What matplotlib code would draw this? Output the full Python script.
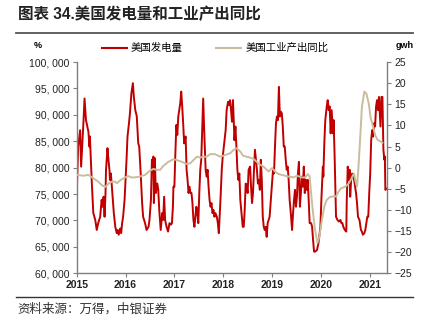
import matplotlib.pyplot as plt
from matplotlib.lines import Line2D

plt.rcParams['font.family'] = ['Liberation Sans', 'Noto Sans CJK SC', 'DejaVu Sans']
plt.rcParams['axes.unicode_minus'] = True

# weekly US power generation (gwh), decimal years
power_t = [
    2015.00, 2015.03, 2015.07, 2015.09, 2015.14, 2015.16, 2015.19, 2015.24, 2015.26, 2015.27,
    2015.29, 2015.31, 2015.34, 2015.38, 2015.41, 2015.44, 2015.48, 2015.51, 2015.53, 2015.55,
    2015.57, 2015.59, 2015.60, 2015.63, 2015.65, 2015.67, 2015.68, 2015.70, 2015.72, 2015.74,
    2015.76, 2015.79, 2015.82, 2015.84, 2015.86, 2015.89, 2015.91, 2015.93, 2015.95, 2015.98,
    2016.00, 2016.02, 2016.04, 2016.07, 2016.09, 2016.12, 2016.15, 2016.17, 2016.20, 2016.23,
    2016.26, 2016.28, 2016.31, 2016.34, 2016.36, 2016.40, 2016.43, 2016.47, 2016.49, 2016.52,
    2016.54, 2016.56, 2016.57, 2016.58, 2016.60, 2016.62, 2016.65, 2016.67, 2016.69, 2016.72,
    2016.75, 2016.77, 2016.79, 2016.81, 2016.84, 2016.87, 2016.90, 2016.93, 2016.95, 2016.97,
    2016.98, 2017.00, 2017.02, 2017.04, 2017.06, 2017.08, 2017.10, 2017.12, 2017.14, 2017.16,
    2017.18, 2017.20, 2017.23, 2017.25, 2017.27, 2017.29, 2017.31, 2017.33, 2017.35, 2017.37,
    2017.39, 2017.41, 2017.43, 2017.45, 2017.47, 2017.49, 2017.51, 2017.53, 2017.55, 2017.57,
    2017.59, 2017.61, 2017.64, 2017.66, 2017.68, 2017.70, 2017.72, 2017.74, 2017.76, 2017.78,
    2017.80, 2017.82, 2017.84, 2017.87, 2017.89, 2017.91, 2017.93, 2017.95, 2017.97, 2017.99,
    2018.02, 2018.05, 2018.07, 2018.10, 2018.12, 2018.14, 2018.16, 2018.18, 2018.20, 2018.21,
    2018.23, 2018.25, 2018.27, 2018.29, 2018.31, 2018.33, 2018.35, 2018.38, 2018.40, 2018.42,
    2018.44, 2018.46, 2018.48, 2018.50, 2018.52, 2018.55, 2018.57, 2018.59, 2018.61, 2018.63,
    2018.65, 2018.67, 2018.69, 2018.71, 2018.73, 2018.75, 2018.77, 2018.79, 2018.81, 2018.83,
    2018.85, 2018.87, 2018.89, 2018.91, 2018.93, 2018.95, 2018.98, 2019.00, 2019.02, 2019.04,
    2019.06, 2019.08, 2019.10, 2019.12, 2019.14, 2019.16, 2019.18, 2019.20, 2019.22, 2019.24,
    2019.26, 2019.28, 2019.30, 2019.32, 2019.34, 2019.36, 2019.39, 2019.41, 2019.43, 2019.45,
    2019.47, 2019.49, 2019.51, 2019.53, 2019.55, 2019.57, 2019.59, 2019.61, 2019.63, 2019.65,
    2019.67, 2019.69, 2019.71, 2019.73, 2019.75, 2019.77, 2019.80, 2019.82, 2019.84, 2019.86,
    2019.88, 2019.92, 2019.95, 2019.99, 2020.01, 2020.03, 2020.04, 2020.05, 2020.07, 2020.09,
    2020.12, 2020.14, 2020.16, 2020.18, 2020.20, 2020.22, 2020.25, 2020.26, 2020.28, 2020.30,
    2020.31, 2020.34, 2020.37, 2020.40, 2020.42, 2020.44, 2020.46, 2020.49, 2020.52, 2020.53,
    2020.55, 2020.57, 2020.59, 2020.60, 2020.62, 2020.64, 2020.67, 2020.70, 2020.72, 2020.74,
    2020.76, 2020.79, 2020.82, 2020.84, 2020.86, 2020.89, 2020.91, 2020.93, 2020.95, 2020.97,
    2020.99, 2021.01, 2021.03, 2021.05, 2021.07, 2021.09, 2021.11, 2021.13, 2021.15, 2021.17,
    2021.19, 2021.22, 2021.24, 2021.26, 2021.27, 2021.28, 2021.30, 2021.31, 2021.32, 2021.34,
]
power_v = [
    74800, 84000, 87100, 80200, 89000, 93100, 89000, 86800, 84000, 85900,
    81500, 77000, 71400, 70100, 68200, 69500, 70700, 73900, 72600, 74500,
    70700, 75200, 79600, 83700, 81500, 79600, 77700, 78900, 76400, 73900,
    71400, 68800, 67600, 68200, 67300, 68500, 67600, 69500, 70700, 73900,
    77700, 81500, 85900, 88400, 90300, 94100, 96000, 93400, 90900, 89700,
    84600, 84000, 78900, 73200, 70700, 69500, 68200, 68800, 70100, 73900,
    81500, 79600, 82100, 73300, 81800, 75200, 77000, 75800, 72000, 68200,
    71400, 70100, 74500, 70100, 68800, 67900, 69500, 69200, 69500, 72600,
    76400, 76400, 82700, 88100, 86200, 89700, 90900, 92200, 94400, 91600,
    88400, 84600, 85900, 79600, 77700, 75200, 76400, 75200, 75200, 73300,
    70100, 68800, 70700, 72600, 71400, 69500, 75200, 79600, 81500, 87100,
    93100, 87100, 79600, 78300, 79600, 76400, 73900, 72600, 73300, 71400,
    72000, 70700, 71400, 70700, 69500, 67600, 71400, 75200, 79600, 82100,
    84600, 87100, 90900, 92500, 91900, 92800, 90900, 88700, 92800, 90300,
    85200, 87800, 84000, 79600, 77700, 78900, 73900, 70700, 68800, 68800,
    72000, 77000, 76400, 75200, 79600, 80200, 76400, 73300, 75200, 79600,
    83400, 81500, 79600, 77000, 77700, 75800, 81500, 77700, 70700, 68800,
    68200, 68800, 66900, 69500, 70100, 70700, 74500, 77000, 79600, 78900,
    84000, 88400, 89700, 89000, 95300, 89700, 90600, 90300, 87800, 84000,
    84000, 81500, 79600, 80200, 77700, 73900, 70700, 68200, 71400, 73900,
    75800, 72600, 74500, 78900, 81100, 72600, 75200, 78300, 76400, 80200,
    75200, 77700, 75800, 77700, 73900, 69500, 69500, 68800, 66300, 64100,
    64100, 64400, 65700, 68800, 73900, 78300, 80200, 78300, 84600, 89000,
    91600, 92800, 90900, 91600, 86500, 90900, 86500, 89000, 82700, 75200,
    70700, 70100, 69800, 70100, 69500, 69500, 68800, 68200, 67900, 73900,
    80200, 77700, 79600, 74500, 77700, 78900, 78300, 76400, 75200, 73300,
    70700, 70100, 68200, 67900, 67300, 67600, 68200, 69500, 70700, 70700,
    75200, 78900, 85200, 87100, 85900, 88400, 87800, 91600, 92800, 90900,
    93400, 87800, 93400, 93400, 87800, 83400, 81500, 82100, 75800, 76000,
]

# US industrial output, yoy %
ip_t = [
    2015.00, 2015.14, 2015.24, 2015.34, 2015.44, 2015.51, 2015.58, 2015.65, 2015.72, 2015.79,
    2015.82, 2015.89, 2015.99, 2016.06, 2016.12, 2016.19, 2016.29, 2016.40, 2016.50, 2016.57,
    2016.64, 2016.71, 2016.77, 2016.88, 2016.98, 2017.05, 2017.15, 2017.25, 2017.32, 2017.39,
    2017.46, 2017.53, 2017.59, 2017.66, 2017.73, 2017.83, 2017.94, 2018.04, 2018.14, 2018.21,
    2018.28, 2018.35, 2018.41, 2018.52, 2018.62, 2018.72, 2018.83, 2018.93, 2019.00, 2019.06,
    2019.13, 2019.23, 2019.34, 2019.44, 2019.51, 2019.61, 2019.68, 2019.73, 2019.77, 2019.80,
    2019.84, 2019.88, 2019.93, 2019.97, 2020.02, 2020.07, 2020.12, 2020.19, 2020.26, 2020.31,
    2020.36, 2020.41, 2020.46, 2020.52, 2020.57, 2020.61, 2020.66, 2020.68, 2020.71, 2020.74,
    2020.77, 2020.81, 2020.84, 2020.89, 2020.93, 2020.98, 2021.02, 2021.07, 2021.11, 2021.16,
    2021.22, 2021.26,
]
ip_v = [
    -1.7, -1.9, -1.7, -2.5, -3.3, -4.1, -4.6, -3.8, -3.3, -3.3,
    -3.7, -3.0, -2.3, -2.0, -2.3, -2.3, -2.1, -1.7, -0.7, -0.3,
    -0.5, -0.5, 0.4, 1.4, 2.0, 1.8, 1.4, 0.9, 1.0, 1.8,
    2.6, 2.4, 2.6, 2.6, 3.2, 3.2, 2.6, 3.0, 3.4, 4.2,
    4.6, 3.8, 2.8, 2.5, 2.1, 1.0, 0.2, -0.9, -0.1, -0.9,
    -1.5, -1.8, -2.1, -2.3, -1.9, -2.3, -2.3, -1.5, -2.1, -6.1,
    -10.8, -14.7, -17.8, -16.3, -12.4, -9.2, -7.6, -6.9, -6.8, -6.8,
    -5.7, -4.9, -4.7, -4.3, -3.7, -2.9, -1.7, -1.4, -3.3, -4.5,
    0.2, 8.1, 14.4, 18.0, 17.6, 15.2, 11.7, 9.7, 7.7, 6.6,
    6.2, 5.9,
]

years = [2015, 2016, 2017, 2018, 2019, 2020, 2021]
left_ticks = [60000, 65000, 70000, 75000, 80000, 85000, 90000, 95000, 100000]
right_ticks = [-25, -20, -15, -10, -5, 0, 5, 10, 15, 20, 25]

red = '#C00000'
tan = '#C8BD9C'
grey = '#7F7F7F'
cjk = ['Noto Sans CJK SC', 'DejaVu Sans']

fig = plt.figure(figsize=(4.25, 3.28), dpi=100)
ax = fig.add_axes([0.1805, 0.1668, 0.7308, 0.6439])
ax2 = ax.twinx()

ax.plot(power_t, power_v, color=red, lw=1.4)
ax2.plot(ip_t, ip_v, color=tan, lw=1.4)

ax.set_xlim(2015, 2021.36)
ax.set_ylim(60000, 100000)
ax2.set_ylim(-25, 25)

ax.set_xticks(years)
ax.set_xticklabels([str(y) for y in years], fontsize=7.5, fontweight='bold', color='#222222')
ax.set_yticks(left_ticks)
ax.set_yticklabels([f'{v:,}'.replace(',', ', ') for v in left_ticks], fontsize=7.5, color='#222222')
ax2.set_yticks(right_ticks)
ax2.set_yticklabels([f'{v}'.replace('-', '\u2212') for v in right_ticks], fontsize=7.5, color='#222222')

for s in ['top', 'right']:
    ax.spines[s].set_visible(False)
for s in ['top', 'left', 'bottom']:
    ax2.spines[s].set_visible(False)
for s in [ax.spines['left'], ax.spines['bottom'], ax2.spines['right']]:
    s.set_color(grey)
    s.set_linewidth(1.0)
ax.tick_params(axis='both', direction='out', length=3, color=grey, pad=2)
ax2.tick_params(axis='y', direction='out', length=3, color=grey, pad=2)

# title, rules and source
fig.text(0.042, 0.955, '图表 34.美国发电量和工业产出同比', fontsize=11.2, fontweight='bold',
         family=['Liberation Sans', 'Noto Sans CJK SC'], va='center', ha='left', color='#222222')
fig.add_artist(Line2D([0.038, 0.972], [0.898, 0.898], color='#555555', lw=1.3))
fig.add_artist(Line2D([0.038, 0.972], [0.094, 0.094], color='#333333', lw=1.0))
fig.text(0.042, 0.058, '资料来源：万得，中银证券', fontsize=9, family=cjk,
         va='center', ha='left', color='#333333')

fig.text(0.09, 0.862, '%', fontsize=6.5, fontweight='bold', ha='center', va='center')
fig.text(0.952, 0.862, 'gwh', fontsize=6.5, fontweight='bold', ha='center', va='center')

handles = [Line2D([], [], color=red, lw=1.5), Line2D([], [], color=tan, lw=1.5)]
fig.legend(handles, ['美国发电量', '美国工业产出同比'], loc='center',
           bbox_to_anchor=(0.506, 0.853), ncol=2, frameon=False, handlelength=2.4,
           handletextpad=0.4, columnspacing=3.2, prop={'family': cjk, 'size': 7.5})

fig.savefig('out.png', dpi=100)
